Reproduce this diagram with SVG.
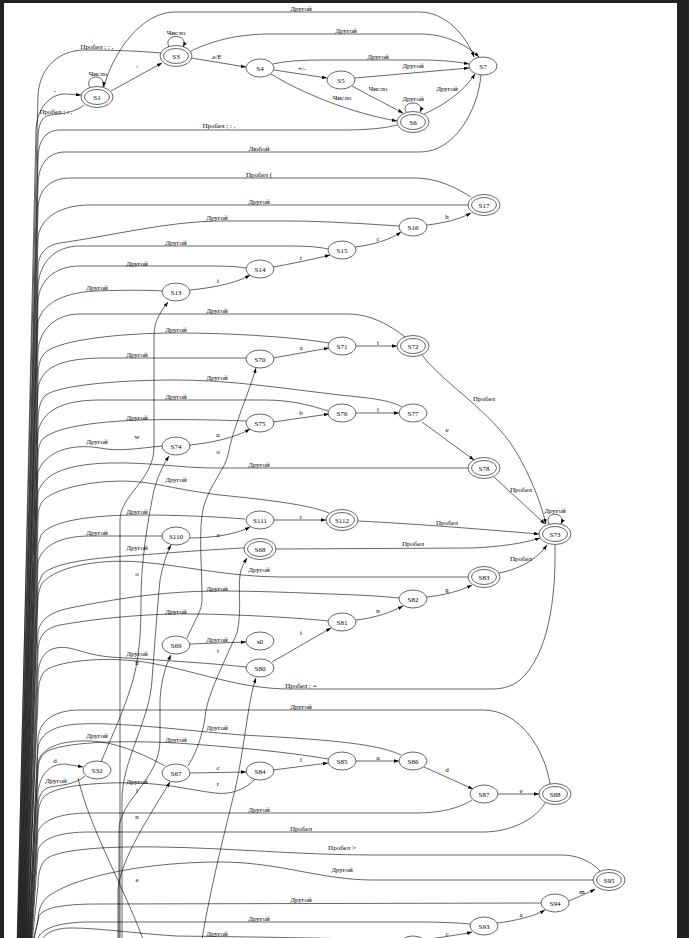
<svg xmlns="http://www.w3.org/2000/svg" width="689" height="938" viewBox="0 0 689 938">
<defs>
<marker id="ah" viewBox="0 0 10 7" refX="10" refY="3.5" markerWidth="5" markerHeight="3.5" markerUnits="userSpaceOnUse" orient="auto"><path d="M0,0 L10,3.5 L0,7 z" fill="#000"/></marker>
<style>
.e{fill:none;stroke:#000;stroke-width:0.6}
.t{font-family:"Liberation Serif","Times New Roman",serif;font-size:7px;fill:#000;text-anchor:middle}
.n{fill:#fff;stroke:#000;stroke-width:0.6}
</style>
</defs>
<rect x="0" y="0" width="689" height="938" fill="#fff"/>
<g id="edges">
<path class="e" marker-end="url(#ah)" d="M104,87 C112,55 140,12 175,12 L420,12 C445,12 466,35 474,57"/>
<path class="e" marker-end="url(#ah)" d="M191,51 C210,42 235,34 270,34 L420,34 C447,34 468,46 479,57"/>
<path class="e" marker-end="url(#ah)" d="M169,47 C162,33 190,33 183,47"/>
<path class="e" marker-end="url(#ah)" d="M90,88 C83,74 107,73 103,87"/>
<path class="e" d="M161,53 C140,51 110,50 85,50 C60,50 40,66 38,95 L17,945"/>
<path class="e" marker-end="url(#ah)" d="M17.4,945 L36,130 C37,108 50,94 65,94 L81,95"/>
<path class="e" d="M84,105 C76,112 62,114 50,115 C42,116 38,124 38,140 L17.8,945"/>
<path class="e" marker-end="url(#ah)" d="M111,91 L162,63"/>
<path class="e" marker-end="url(#ah)" d="M191,58 L246,67"/>
<path class="e" marker-end="url(#ah)" d="M273,64 C290,60 310,60 340,60 L420,60 C445,60 458,62 469,64"/>
<path class="e" marker-end="url(#ah)" d="M274,70 L327,78"/>
<path class="e" marker-end="url(#ah)" d="M355,78 L469,68"/>
<path class="e" marker-end="url(#ah)" d="M271,74 C300,92 350,113 397,121"/>
<path class="e" marker-end="url(#ah)" d="M352,86 C370,96 390,106 403,113"/>
<path class="e" marker-end="url(#ah)" d="M406,112 C400,100 426,100 420,112"/>
<path class="e" marker-end="url(#ah)" d="M424,114 C445,105 465,90 475,74"/>
<path class="e" d="M397,125 C385,128 370,130 340,130 L60,130 C46,130 38,140 38,160 L18.2,945"/>
<path class="e" d="M481,75 C478,110 455,152 420,152 L65,152 C48,152 38,165 38,185 L18.6,945"/>
<path class="e" d="M471,197 C455,187 437,178 415,178 L70,178 C50,178 38,190 38,210 L19,945"/>
<path class="e" d="M468,205 L90,205 C60,205 40,218 38,238 L19.4,945"/>
<path class="e" marker-end="url(#ah)" d="M427,225 C445,223 460,219 471,213"/>
<path class="e" d="M399,226 C370,224 320,221 290,221 L220,221 C170,221 110,236 60,243 C46,245 38,254 38,268 L19.8,945"/>
<path class="e" marker-end="url(#ah)" d="M355,247 C372,245 390,240 401,232"/>
<path class="e" d="M328,249 C315,246 300,246 280,246 L80,246 C55,246 40,262 38,285 L20.2,945"/>
<path class="e" marker-end="url(#ah)" d="M273,267 C290,264 310,260 330,255"/>
<path class="e" d="M246,268 C235,266 220,266 200,266 L80,266 C55,266 40,280 38,300 L20.6,945"/>
<path class="e" marker-end="url(#ah)" d="M190,290 C210,288 235,284 250,275"/>
<path class="e" d="M162,291 C150,290 120,290 95,291 C60,293 42,305 38,322 L21,945"/>
<path class="e" d="M405,337 C390,325 370,314 349,314 L80,314 C55,314 40,330 38,350 L21.4,945"/>
<path class="e" d="M329,343 C300,338 240,333 176,333 C120,333 60,340 46,352 C40,357 38,365 38,378 L21.8,945"/>
<path class="e" d="M246,358 L100,358 C60,359 42,367 38,388 L22.2,945"/>
<path class="e" d="M402,407 C390,400 370,398 340,395 C280,388 230,380 176,380 C120,380 60,385 46,395 C40,400 38,410 38,422 L22.6,945"/>
<path class="e" d="M328,411 C310,405 290,400 265,400 L100,400 C60,400 42,412 38,432 L23,945"/>
<path class="e" d="M246,421 C220,420 180,419 140,420 C90,422 52,428 42,440 C39,444 38,450 38,458 L23.4,945"/>
<path class="e" d="M162,446 C140,448 120,452 100,448 C70,443 45,452 38,472 L23.8,945"/>
<path class="e" marker-end="url(#ah)" d="M422,355 C445,385 490,410 515,450 C530,475 540,500 546,524"/>
<path class="e" marker-end="url(#ah)" d="M422,422 L474,460"/>
<path class="e" marker-end="url(#ah)" d="M356,346 L397,346"/>
<path class="e" marker-end="url(#ah)" d="M273,358 L329,348"/>
<path class="e" marker-end="url(#ah)" d="M356,413 L399,413"/>
<path class="e" marker-end="url(#ah)" d="M273,422 L329,414"/>
<path class="e" marker-end="url(#ah)" d="M190,445 C210,443 235,438 250,429"/>
<path class="e" d="M468,468 L215,468 C180,468 150,462 110,463 C70,464 45,472 38,492 L24.2,945"/>
<path class="e" d="M329,513 C310,505 270,500 220,495 C180,490 160,484 140,482 C100,478 52,488 42,502 C39,507 38,512 38,520 L24.6,945"/>
<path class="e" d="M245,519 C220,517 180,515 140,515 C90,515 50,521 41,535 L38,545 L25,945"/>
<path class="e" d="M162,536 L90,536 C60,536 42,546 38,562 L25.4,945"/>
<path class="e" d="M244,548 C220,549 180,552 140,555 C90,558 52,563 42,575 L38,585 L25.8,945"/>
<path class="e" d="M468,577 L281,577 C230,577 180,565 140,562 C90,558 50,570 41,585 L38,595 L26.2,945"/>
<path class="e" d="M399,598 C380,596 360,595 330,594 C280,592 250,591 220,591 C160,591 110,600 70,608 C50,612 40,620 38,632 L26.6,945"/>
<path class="e" marker-end="url(#ah)" d="M358,521 C420,524 490,530 539,534"/>
<path class="e" marker-end="url(#ah)" d="M276,549 L470,548 C500,547 525,543 540,538"/>
<path class="e" marker-end="url(#ah)" d="M499,573 C515,570 535,562 547,545"/>
<path class="e" marker-end="url(#ah)" d="M494,477 L545,524"/>
<path class="e" marker-end="url(#ah)" d="M549,524 C543,511 567,511 561,524"/>
<path class="e" marker-end="url(#ah)" d="M274,520 L326,520"/>
<path class="e" marker-end="url(#ah)" d="M190,538 C210,538 235,535 250,527"/>
<path class="e" marker-end="url(#ah)" d="M427,597 C445,595 460,591 472,585"/>
<path class="e" marker-end="url(#ah)" d="M356,620 C375,618 392,612 403,606"/>
<path class="e" d="M555,545 C556,600 548,655 520,680 C510,688 500,689 490,689 L290,689 C240,689 200,672 150,663 C110,656 62,660 46,670 C40,675 38,685 38,700 L27,945"/>
<path class="e" d="M329,621 C300,618 250,615 200,614 C150,613 100,618 60,625 C45,628 38,636 38,652 L27.4,945"/>
<path class="e" marker-end="url(#ah)" d="M190,644 L246,642"/>
<path class="e" marker-end="url(#ah)" d="M272,662 L331,628"/>
<path class="e" d="M246,667 C220,664 160,660 110,657 C80,654 72,645 56,648 C45,650 38,660 38,676 L27.8,945"/>
<path class="e" d="M550,784 C545,750 520,710 483,710 L80,710 C55,710 40,720 38,738 L28.2,945"/>
<path class="e" d="M401,755 C380,745 340,740 242,735 C180,730 120,722 80,724 C55,725 40,733 38,748 L28.6,945"/>
<path class="e" d="M328,759 C300,754 250,748 176,743 C120,740 62,742 46,752 C40,756 38,763 38,772 L29,945"/>
<path class="e" d="M165,766 C150,758 120,742 90,741 C60,740 42,748 38,762 L29.4,945"/>
<path class="e" marker-end="url(#ah)" d="M29.8,945 L38,792 C40,776 48,764 65,764 L83,767"/>
<path class="e" d="M85,776 C75,785 60,785 50,787 C42,789 38,796 38,808 L30.2,945"/>
<path class="e" d="M255,779 C245,790 230,795 215,793 C190,790 170,784 137,783 C100,782 60,785 46,795 C40,800 38,808 38,818 L30.6,945"/>
<path class="e" d="M472,800 C460,808 440,813 417,813 L90,813 C60,813 42,820 38,832 L31,945"/>
<path class="e" d="M545,803 C535,820 510,832 483,832 L90,832 C60,832 42,838 38,850 L31.4,945"/>
<path class="e" d="M600,871 C590,860 575,855 562,855 L373,855 C300,855 230,848 160,847 C100,846 55,850 45,860 C40,866 38,875 38,885 L31.8,945"/>
<path class="e" d="M593,880 L373,880 C320,880 280,862 220,862 C150,862 80,875 50,895 C42,900 38,910 38,920 L32.2,945"/>
<path class="e" d="M541,903 L100,904 C70,904 45,906 39,916 L32.6,945"/>
<path class="e" d="M470,924 C460,923 440,922 420,922 L90,922 C60,922 42,928 38,938 L33,945"/>
<path class="e" d="M400,941 C350,938 250,937 176,936 C130,933 100,928 70,928 C52,928 42,935 39,945"/>
<path class="e" marker-end="url(#ah)" d="M425,940 C440,937 460,935 472,932"/>
<path class="e" marker-end="url(#ah)" d="M497,923 C515,921 535,916 545,910"/>
<path class="e" marker-end="url(#ah)" d="M569,901 C580,896 590,892 595,889"/>
<path class="e" marker-end="url(#ah)" d="M498,794 L539,794"/>
<path class="e" marker-end="url(#ah)" d="M424,767 L473,789"/>
<path class="e" marker-end="url(#ah)" d="M356,761 L399,761"/>
<path class="e" marker-end="url(#ah)" d="M273,770 L328,763"/>
<path class="e" marker-end="url(#ah)" d="M190,773 L246,772"/>
<path class="e" marker-end="url(#ah)" d="M120,945 L120,520 C120,495 154,480 154,447 L154,335 C154,320 162,310 168,302"/>
<path class="e" marker-end="url(#ah)" d="M101,762 C110,740 120,720 130,690 C140,660 141,630 141,600 C141,560 148,520 154,490 C158,475 165,462 169,456"/>
<path class="e" marker-end="url(#ah)" d="M122,945 L122,800 C122,760 150,720 152,680 C155,640 158,600 160,580 C163,565 167,552 171,545"/>
<path class="e" marker-end="url(#ah)" d="M119,945 L119,830 C119,800 160,780 160,740 L160,700 C161,680 166,665 171,655"/>
<path class="e" marker-end="url(#ah)" d="M118,945 L118,890 C120,860 150,815 170,782"/>
<path class="e" d="M78,778 C90,830 128,895 145,945"/>
<path class="e" marker-end="url(#ah)" d="M187,638 C195,620 202,610 202,600 C202,570 199,540 202,515 C205,490 225,470 228,455 C232,430 250,390 256,368"/>
<path class="e" marker-end="url(#ah)" d="M188,766 C198,750 204,730 206,710 C210,690 225,660 237,633 C242,610 238,590 240,575 C241,568 244,563 247,558"/>
<path class="e" marker-end="url(#ah)" d="M201,945 C210,890 225,830 235,790 C245,745 248,700 256,678"/>
</g>
<g id="edge-labels" class="t">
<text x="301" y="10.5">Другой</text>
<text x="346" y="32.5">Другой</text>
<text x="176" y="34.5">Число</text>
<text x="98" y="75.5">Число</text>
<text x="97" y="48.5">Пробел ; : ,</text>
<text x="55" y="92.5">-</text>
<text x="56" y="113.5">Пробел ; : ,</text>
<text x="137" y="66.5">,</text>
<text x="217" y="58.5">e/E</text>
<text x="378" y="58.5">Другой</text>
<text x="302" y="70.5">+/-</text>
<text x="413" y="67.5">Другой</text>
<text x="342" y="99.5">Число</text>
<text x="378" y="90.5">Число</text>
<text x="413" y="100.5">Другой</text>
<text x="447" y="90.5">Другой</text>
<text x="219" y="127.5">Пробел ; : ,</text>
<text x="259" y="150.5">Любой</text>
<text x="259" y="176.5">Пробел (</text>
<text x="259" y="203.5">Другой</text>
<text x="447" y="218.5">h</text>
<text x="217" y="219.5">Другой</text>
<text x="378" y="240.5">c</text>
<text x="176" y="244.5">Другой</text>
<text x="301" y="259.5">t</text>
<text x="137" y="265.5">Другой</text>
<text x="218" y="282.5">i</text>
<text x="97" y="289.5">Другой</text>
<text x="217" y="312.5">Другой</text>
<text x="176" y="331.5">Другой</text>
<text x="378" y="344.5">t</text>
<text x="301" y="349.5">a</text>
<text x="137" y="356.5">Другой</text>
<text x="217" y="379.5">Другой</text>
<text x="176" y="398.5">Другой</text>
<text x="484" y="400.5">Пробел</text>
<text x="378" y="411.5">l</text>
<text x="301" y="414.5">b</text>
<text x="137" y="419.5">Другой</text>
<text x="447" y="431.5">e</text>
<text x="218" y="436.5">u</text>
<text x="137" y="438.5">w</text>
<text x="97" y="443.5">Другой</text>
<text x="218" y="453.5">o</text>
<text x="259" y="466.5">Другой</text>
<text x="176" y="481.5">Другой</text>
<text x="521" y="491.5">Пробел</text>
<text x="555" y="512.5">Другой</text>
<text x="137" y="513.5">Другой</text>
<text x="301" y="518.5">r</text>
<text x="447" y="524.5">Пробел</text>
<text x="97" y="534.5">Другой</text>
<text x="218" y="536.5">a</text>
<text x="413" y="545.5">Пробел</text>
<text x="137" y="549.5">Другой</text>
<text x="521" y="560.5">Пробел</text>
<text x="259" y="571.5">Другой</text>
<text x="137" y="575.5">o</text>
<text x="447" y="591.5">g</text>
<text x="217" y="590.5">Другой</text>
<text x="378" y="612.5">n</text>
<text x="176" y="613.5">Другой</text>
<text x="301" y="634.5">i</text>
<text x="217" y="641.5">Другой</text>
<text x="218" y="652.5">t</text>
<text x="137" y="655.5">Другой</text>
<text x="137" y="664.5">h</text>
<text x="301" y="687.5">Пробел ; =</text>
<text x="301" y="708.5">Другой</text>
<text x="217" y="729.5">Другой</text>
<text x="97" y="737.5">Другой</text>
<text x="176" y="741.5">Другой</text>
<text x="378" y="759.5">u</text>
<text x="55" y="762.5">d</text>
<text x="301" y="761.5">l</text>
<text x="218" y="769.5">c</text>
<text x="447" y="771.5">d</text>
<text x="56" y="782.5">Другой</text>
<text x="137" y="783.5">Другой</text>
<text x="218" y="785.5">r</text>
<text x="521" y="792.5">e</text>
<text x="137" y="792.5">l</text>
<text x="259" y="811.5">Другой</text>
<text x="137" y="818.5">n</text>
<text x="301" y="830.5">Пробел</text>
<text x="342" y="849.5">Пробел &gt;</text>
<text x="342" y="871.5">Другой</text>
<text x="137" y="881.5">e</text>
<text x="582" y="893.5">m</text>
<text x="301" y="901.5">Другой</text>
<text x="521" y="916.5">a</text>
<text x="259" y="920.5">Другой</text>
<text x="217" y="935.5">Другой</text>
<text x="447" y="935.5">c</text>
</g>
<g id="S1"><ellipse class="n" cx="97" cy="97" rx="16" ry="10.5"/><ellipse class="n" cx="97" cy="97" rx="12.5" ry="7.5"/><text class="t" x="97" y="99.5">S1</text></g>
<g id="S3"><ellipse class="n" cx="176" cy="56" rx="16" ry="10.5"/><ellipse class="n" cx="176" cy="56" rx="12.5" ry="7.5"/><text class="t" x="176" y="58.5">S3</text></g>
<g id="S4"><ellipse class="n" cx="260" cy="68" rx="14" ry="9"/><text class="t" x="260" y="70.5">S4</text></g>
<g id="S5"><ellipse class="n" cx="341" cy="80" rx="14" ry="9"/><text class="t" x="341" y="82.5">S5</text></g>
<g id="S6"><ellipse class="n" cx="413" cy="122" rx="16" ry="10.5"/><ellipse class="n" cx="413" cy="122" rx="12.5" ry="7.5"/><text class="t" x="413" y="124.5">S6</text></g>
<g id="S7"><ellipse class="n" cx="483" cy="66" rx="14" ry="9"/><text class="t" x="483" y="68.5">S7</text></g>
<g id="S17"><ellipse class="n" cx="484" cy="205" rx="16" ry="10.5"/><ellipse class="n" cx="484" cy="205" rx="12.5" ry="7.5"/><text class="t" x="484" y="207.5">S17</text></g>
<g id="S16"><ellipse class="n" cx="413" cy="227" rx="14" ry="9"/><text class="t" x="413" y="229.5">S16</text></g>
<g id="S15"><ellipse class="n" cx="342" cy="250" rx="14" ry="9"/><text class="t" x="342" y="252.5">S15</text></g>
<g id="S14"><ellipse class="n" cx="260" cy="269" rx="14" ry="9"/><text class="t" x="260" y="271.5">S14</text></g>
<g id="S13"><ellipse class="n" cx="176" cy="292" rx="14" ry="9"/><text class="t" x="176" y="294.5">S13</text></g>
<g id="S72"><ellipse class="n" cx="413" cy="346" rx="16" ry="10.5"/><ellipse class="n" cx="413" cy="346" rx="12.5" ry="7.5"/><text class="t" x="413" y="348.5">S72</text></g>
<g id="S71"><ellipse class="n" cx="342" cy="346" rx="14" ry="9"/><text class="t" x="342" y="348.5">S71</text></g>
<g id="S70"><ellipse class="n" cx="260" cy="359" rx="14" ry="9"/><text class="t" x="260" y="361.5">S70</text></g>
<g id="S77"><ellipse class="n" cx="413" cy="413" rx="14" ry="9"/><text class="t" x="413" y="415.5">S77</text></g>
<g id="S76"><ellipse class="n" cx="342" cy="413" rx="14" ry="9"/><text class="t" x="342" y="415.5">S76</text></g>
<g id="S75"><ellipse class="n" cx="260" cy="423" rx="14" ry="9"/><text class="t" x="260" y="425.5">S75</text></g>
<g id="S74"><ellipse class="n" cx="176" cy="446" rx="14" ry="9"/><text class="t" x="176" y="448.5">S74</text></g>
<g id="S78"><ellipse class="n" cx="484" cy="468" rx="16" ry="10.5"/><ellipse class="n" cx="484" cy="468" rx="12.5" ry="7.5"/><text class="t" x="484" y="470.5">S78</text></g>
<g id="S112"><ellipse class="n" cx="342" cy="520" rx="16" ry="10.5"/><ellipse class="n" cx="342" cy="520" rx="12.5" ry="7.5"/><text class="t" x="342" y="522.5">S112</text></g>
<g id="S111"><ellipse class="n" cx="260" cy="520" rx="14" ry="9"/><text class="t" x="260" y="522.5">S111</text></g>
<g id="S110"><ellipse class="n" cx="176" cy="536" rx="14" ry="9"/><text class="t" x="176" y="538.5">S110</text></g>
<g id="S68"><ellipse class="n" cx="260" cy="549" rx="16" ry="10.5"/><ellipse class="n" cx="260" cy="549" rx="12.5" ry="7.5"/><text class="t" x="260" y="551.5">S68</text></g>
<g id="S73"><ellipse class="n" cx="555" cy="534" rx="16" ry="10.5"/><ellipse class="n" cx="555" cy="534" rx="12.5" ry="7.5"/><text class="t" x="555" y="536.5">S73</text></g>
<g id="S83"><ellipse class="n" cx="484" cy="577" rx="16" ry="10.5"/><ellipse class="n" cx="484" cy="577" rx="12.5" ry="7.5"/><text class="t" x="484" y="579.5">S83</text></g>
<g id="S82"><ellipse class="n" cx="413" cy="599" rx="14" ry="9"/><text class="t" x="413" y="601.5">S82</text></g>
<g id="S81"><ellipse class="n" cx="342" cy="622" rx="14" ry="9"/><text class="t" x="342" y="624.5">S81</text></g>
<g id="S69"><ellipse class="n" cx="176" cy="645" rx="14" ry="9"/><text class="t" x="176" y="647.5">S69</text></g>
<g id="s0"><ellipse class="n" cx="260" cy="641" rx="14" ry="9"/><text class="t" x="260" y="643.5">s0</text></g>
<g id="S80"><ellipse class="n" cx="260" cy="668" rx="14" ry="9"/><text class="t" x="260" y="670.5">S80</text></g>
<g id="S85"><ellipse class="n" cx="342" cy="761" rx="14" ry="9"/><text class="t" x="342" y="763.5">S85</text></g>
<g id="S86"><ellipse class="n" cx="413" cy="761" rx="14" ry="9"/><text class="t" x="413" y="763.5">S86</text></g>
<g id="S32"><ellipse class="n" cx="97" cy="770" rx="14" ry="9"/><text class="t" x="97" y="772.5">S32</text></g>
<g id="S67"><ellipse class="n" cx="176" cy="773" rx="14" ry="9"/><text class="t" x="176" y="775.5">S67</text></g>
<g id="S84"><ellipse class="n" cx="260" cy="771" rx="14" ry="9"/><text class="t" x="260" y="773.5">S84</text></g>
<g id="S87"><ellipse class="n" cx="484" cy="794" rx="14" ry="9"/><text class="t" x="484" y="796.5">S87</text></g>
<g id="S88"><ellipse class="n" cx="555" cy="794" rx="16" ry="10.5"/><ellipse class="n" cx="555" cy="794" rx="12.5" ry="7.5"/><text class="t" x="555" y="796.5">S88</text></g>
<g id="S95"><ellipse class="n" cx="609" cy="880" rx="16" ry="10.5"/><ellipse class="n" cx="609" cy="880" rx="12.5" ry="7.5"/><text class="t" x="609" y="882.5">S95</text></g>
<g id="S94"><ellipse class="n" cx="555" cy="903" rx="14" ry="9"/><text class="t" x="555" y="905.5">S94</text></g>
<g id="S93"><ellipse class="n" cx="484" cy="926" rx="14" ry="9"/><text class="t" x="484" y="928.5">S93</text></g>
<g id="S-cut"><ellipse class="n" cx="413" cy="945" rx="14" ry="9"/></g>
<g id="frame" fill="#222">
<rect x="0" y="0" width="689" height="3"/>
<rect x="0" y="0" width="4" height="938"/>
<rect x="677" y="0" width="12" height="938"/>
</g>
</svg>
